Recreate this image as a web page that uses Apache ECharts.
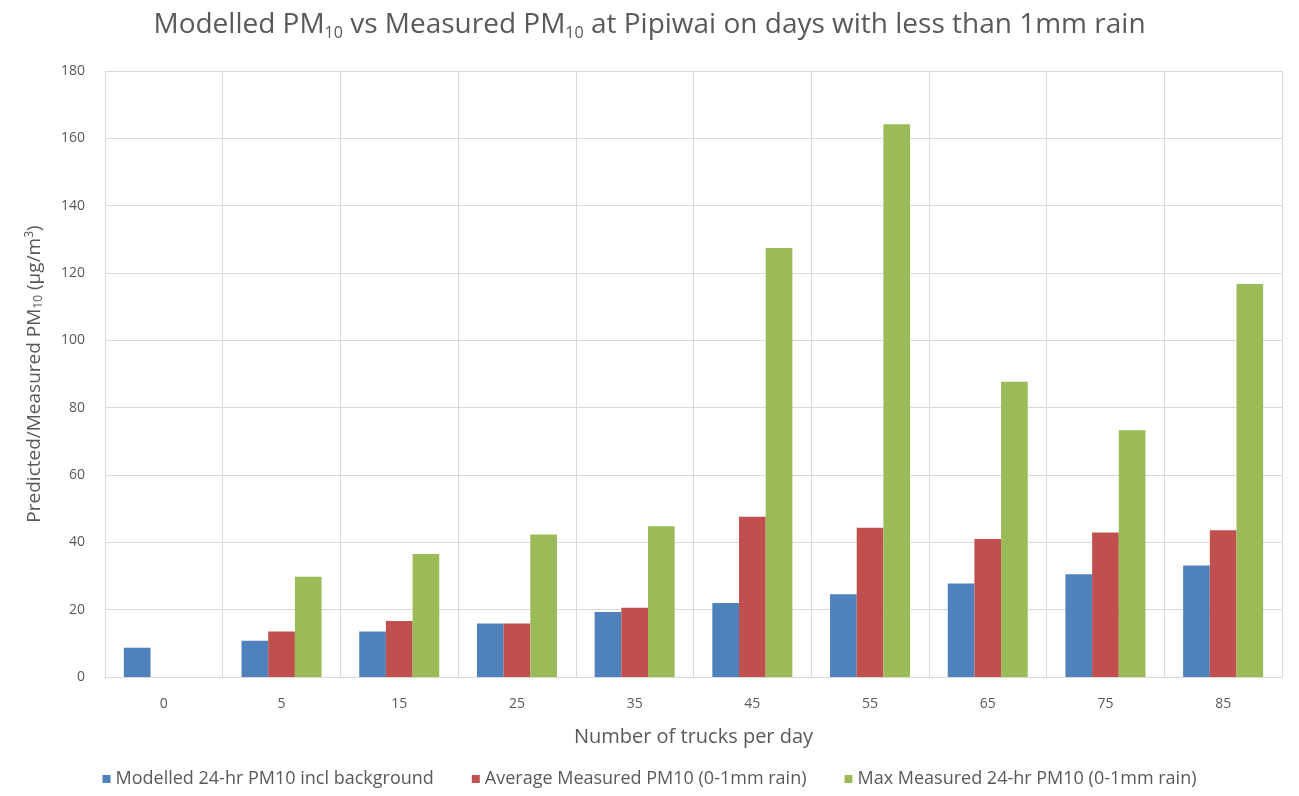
<!DOCTYPE html>
<html>
<head>
<meta charset="utf-8">
<script src="https://cdn.jsdelivr.net/npm/echarts@6/dist/echarts.min.js"></script>
<style>
  html, body { margin: 0; padding: 0; background: #fff; }
  #chart { width: 1299px; height: 796px; }
</style>
</head>
<body>
<div id="chart"></div>
<script>
// Trucks per day (category axis)
const trucks = ['0', '5', '15', '25', '35', '45', '55', '65', '75', '85'];
// PM10 concentrations, µg/m³
const modelled = [8.7, 10.8, 13.5, 15.9, 19.3, 22.0, 24.6, 27.8, 30.5, 33.1];
const avgMeasured = [null, 13.5, 16.6, 15.9, 20.6, 47.6, 44.3, 41.0, 42.9, 43.6];
const maxMeasured = [null, 29.8, 36.5, 42.3, 44.8, 127.4, 164.2, 87.7, 73.3, 116.7];
const seriesNames = [
  'Modelled 24-hr PM10 incl background',
  'Average Measured PM10 (0-1mm rain)',
  'Max Measured 24-hr PM10 (0-1mm rain)'
];
const colors = ['#4f81bd', '#c0504d', '#9bbb59'];
const yTicks = { min: 0, max: 180, interval: 20 };

const font = '"Open Sans", "Noto Sans", sans-serif';
const grey = '#595959';

const chart = echarts.init(document.getElementById('chart'));
chart.setOption({
  animation: false,
  color: colors,
  textStyle: { fontFamily: font, color: grey },
  title: {
    text: 'Modelled PM{sub|10} vs Measured PM{sub|10} at Pipiwai on days with less than 1mm rain',
    left: 'center',
    top: 4,
    textStyle: {
      fontFamily: font,
      fontSize: 28,
      fontWeight: 'normal',
      color: grey,
      rich: {
        sub: { fontSize: 16, color: grey, fontFamily: font, verticalAlign: 'bottom', padding: [16, 0, 0, 0] }
      }
    }
  },
  grid: { left: 105, right: 17, top: 71, bottom: 119, containLabel: false },
  legend: {
    data: seriesNames,
    bottom: 3,
    left: 'center',
    itemWidth: 8,
    itemHeight: 8,
    itemGap: 38,
    icon: 'rect',
    textStyle: { fontFamily: font, fontSize: 18, color: grey }
  },
  xAxis: {
    type: 'category',
    data: trucks,
    name: 'Number of trucks per day',
    nameLocation: 'middle',
    nameGap: 50,
    nameTextStyle: { fontFamily: font, fontSize: 20, color: grey },
    axisLine: { lineStyle: { color: '#d9d9d9', width: 1 } },
    axisTick: { show: false },
    axisLabel: { fontFamily: font, fontSize: 14, color: grey, margin: 20 },
    splitLine: { show: true, lineStyle: { color: '#d9d9d9', width: 1 } }
  },
  yAxis: {
    type: 'value',
    min: yTicks.min,
    max: yTicks.max,
    interval: yTicks.interval,
    name: 'Predicted/Measured PM{sub|10} (μg/m{sup|3})',
    nameLocation: 'middle',
    nameGap: 60,
    nameTextStyle: {
      fontFamily: font,
      fontSize: 19,
      color: grey,
      rich: {
        sub: { fontSize: 12, color: grey, fontFamily: font, padding: [9, 0, 0, 0] },
        sup: { fontSize: 12, color: grey, fontFamily: font, padding: [0, 0, 9, 0] }
      }
    },
    axisLine: { show: true, lineStyle: { color: '#d9d9d9' } },
    axisTick: { show: false },
    axisLabel: { fontFamily: font, fontSize: 14, color: grey, margin: 20 },
    splitLine: { lineStyle: { color: '#d9d9d9', width: 1 } }
  },
  series: [
    { name: seriesNames[0], type: 'bar', data: modelled, barGap: '0%', barCategoryGap: '32%' },
    { name: seriesNames[1], type: 'bar', data: avgMeasured, barGap: '0%', barCategoryGap: '32%' },
    { name: seriesNames[2], type: 'bar', data: maxMeasured, barGap: '0%', barCategoryGap: '32%' }
  ]
});
</script>
</body>
</html>
